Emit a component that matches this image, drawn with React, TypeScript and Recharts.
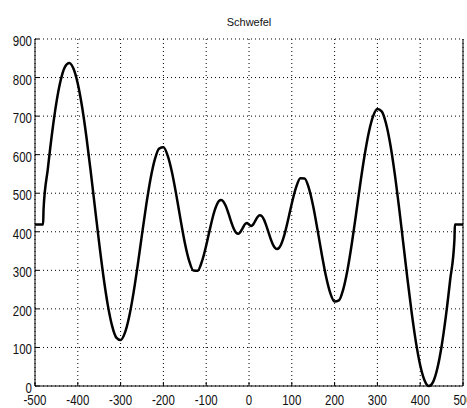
import { LineChart, Line, XAxis, YAxis, CartesianGrid } from 'recharts';

// x positions sampled along the curve
const xs = [
  -500, -490, -481, -480, -470, -460, -450, -440, -430, -420, -410, -400, -390, -380, -370, -360,
  -350, -340, -330, -320, -310, -300, -290, -280, -270, -260, -250, -240, -230, -220, -210, -200,
  -190, -180, -170, -160, -150, -140, -130, -120, -110, -100, -95, -90, -85, -80, -75, -70, -65,
  -60, -55, -50, -45, -40, -35, -30, -25, -20, -15, -10, -5, 0, 5, 10, 15, 20, 25, 30, 35, 40,
  45, 50, 55, 60, 65, 70, 75, 80, 85, 90, 95, 100, 110, 120, 130, 140, 150, 160, 170, 180, 190,
  200, 210, 220, 230, 240, 250, 260, 270, 280, 290, 300, 310, 320, 330, 340, 350, 360, 370, 380,
  390, 400, 410, 420, 430, 440, 450, 460, 470, 480, 481, 490, 500,
];

// values
const ys = [
  419, 419, 419, 458.5, 563.1, 656.9, 734.9, 792.8, 827.7, 837.9, 822.9, 784.1, 724.2, 647.2, 558.0, 463.5,
  369.7, 283.3, 210.5, 156.6, 125.6, 119.3, 137.8, 179.6, 240.2, 313.5, 393.1, 470.3, 537.6, 587.8, 615.9, 619.0,
  597.3, 554.2, 496.3, 432.2, 371.7, 325.4, 299.6, 299.1, 323.0, 364.6, 389.0, 413.4, 436.3, 456.0, 471.0, 480.0, 482.6,
  478.6, 468.8, 454.4, 437.5, 420.6, 406.4, 397.3, 395.0, 399.6, 409.0, 418.8, 422.9, 419.0, 415.1, 419.2, 429.0, 438.4, 443.0, 440.6, 431.6, 417.4,
  400.4, 383.5, 369.2, 359.4, 355.4, 358.0, 367.0, 382.0, 401.7, 424.6, 449.0, 473.4, 515.0, 538.9, 538.4, 512.6, 466.3, 405.8, 341.7, 283.8, 240.7,
  219.0, 222.1, 250.2, 300.4, 367.7, 444.9, 524.5, 597.8, 658.4, 700.1, 718.7, 712.4, 681.4, 627.5, 554.7, 468.3, 374.5, 280.0, 190.8,
  113.8, 53.9, 15.1, 0.1, 10.3, 45.2, 103.1, 181.1, 274.9, 379.5, 419, 419, 419,
];

const xTicks = [-500, -400, -300, -200, -100, 0, 100, 200, 300, 400, 500];
const yTicks = [0, 100, 200, 300, 400, 500, 600, 700, 800, 900];

const data = xs.map((x, i) => ({ x, y: ys[i] }));

const LEFT = 35;
const RIGHT = 463;
const TOP = 39;
const BOTTOM = 386;
const labelFont = '"Liberation Sans", Arial, sans-serif';

// narrow-looking tick labels: squeeze the glyphs horizontally
const NarrowText = ({ x, y, anchor, children }: any) => (
  <text
    transform={`translate(${x},${y}) scale(0.82,1)`}
    textAnchor={anchor}
    fontSize={14}
    fontFamily={labelFont}
    fill="#111"
  >
    {children}
  </text>
);

const BottomTick = (props: any) => {
  const { x, payload } = props;
  return (
    <g>
      <line x1={x} x2={x} y1={BOTTOM} y2={BOTTOM - 4} stroke="#000" />
      <NarrowText x={x} y={BOTTOM + 19} anchor="middle">
        {payload.value}
      </NarrowText>
    </g>
  );
};

const TopTick = (props: any) => {
  const { x } = props;
  return <line x1={x} x2={x} y1={TOP} y2={TOP + 4} stroke="#000" />;
};

const LeftTick = (props: any) => {
  const { y, payload } = props;
  return (
    <g>
      <line x1={LEFT} x2={LEFT + 4} y1={y} y2={y} stroke="#000" />
      <NarrowText x={LEFT - 3} y={y + 7} anchor="end">
        {payload.value}
      </NarrowText>
    </g>
  );
};

const RightTick = (props: any) => {
  const { y } = props;
  return <line x1={RIGHT} x2={RIGHT - 4} y1={y} y2={y} stroke="#000" />;
};

export default function App() {
  return (
    <div
      style={{
        position: 'absolute',
        left: 0,
        top: 0,
        width: 467,
        height: 408,
        overflow: 'hidden',
        background: '#fff',
      }}
    >
      <div
        style={{
          position: 'absolute',
          top: 16,
          left: 0,
          width: LEFT + RIGHT,
          textAlign: 'center',
          fontFamily: '"Liberation Sans", Arial, sans-serif',
          fontSize: 11,
          color: '#111',
        }}
      >
        Schwefel
      </div>
      <LineChart width={480} height={408} data={data} margin={{ top: TOP, right: 0, bottom: 0, left: 0 }}>
        <CartesianGrid stroke="#000" strokeDasharray="1 3" />
        <XAxis
          dataKey="x"
          type="number"
          domain={[-500, 500]}
          ticks={xTicks}
          height={22}
          axisLine={{ stroke: '#000' }}
          tickLine={false}
          tick={<BottomTick />}
          interval={0}
        />
        <XAxis
          xAxisId="top"
          dataKey="x"
          type="number"
          orientation="top"
          domain={[-500, 500]}
          ticks={xTicks}
          height={0}
          axisLine={{ stroke: '#000' }}
          tickLine={false}
          tick={<TopTick />}
          interval={0}
        />
        <YAxis
          type="number"
          domain={[0, 900]}
          ticks={yTicks}
          width={LEFT}
          axisLine={{ stroke: '#000' }}
          tickLine={false}
          tick={<LeftTick />}
          interval={0}
        />
        <YAxis
          yAxisId="right"
          orientation="right"
          type="number"
          domain={[0, 900]}
          ticks={yTicks}
          width={17}
          axisLine={{ stroke: '#000' }}
          tickLine={false}
          tick={<RightTick />}
          interval={0}
        />
        <Line
          dataKey="y"
          type="monotone"
          stroke="#000"
          strokeWidth={2.5}
          dot={false}
          isAnimationActive={false}
        />
      </LineChart>
    </div>
  );
}
